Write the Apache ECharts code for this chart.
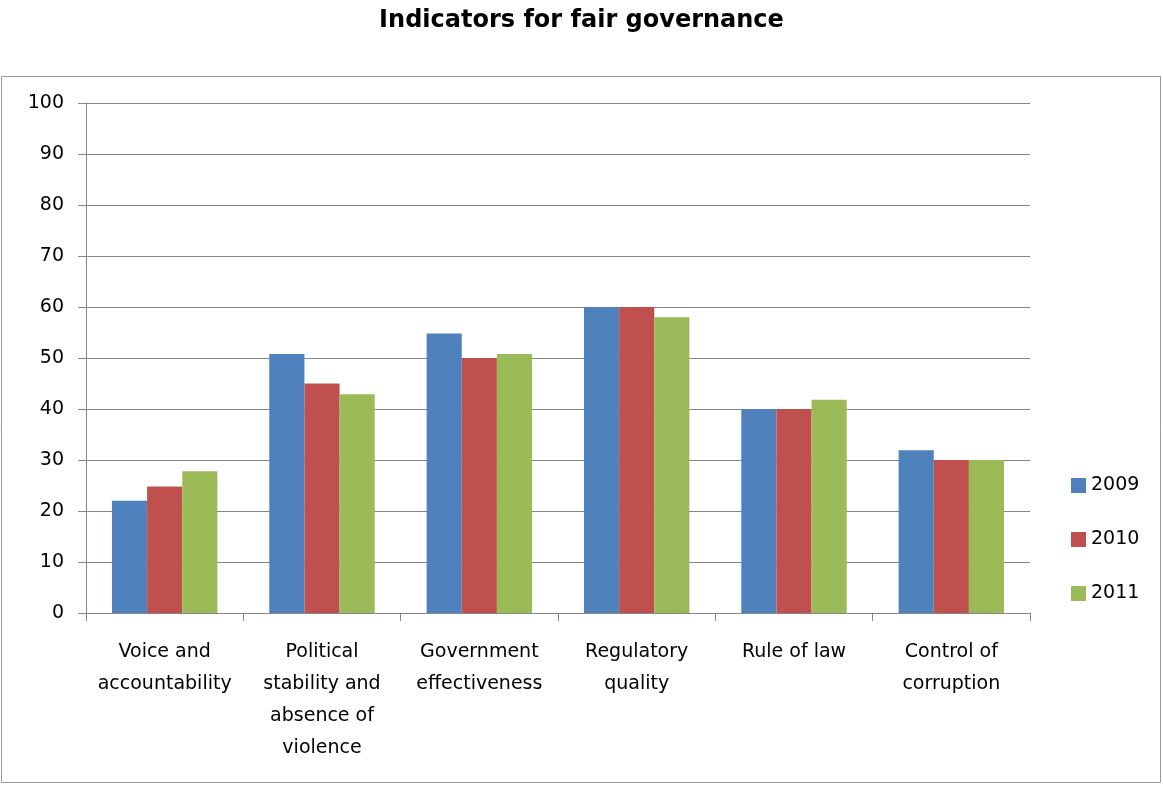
<!DOCTYPE html>
<html><head><meta charset="utf-8">
<script src="https://cdn.jsdelivr.net/npm/echarts@6/dist/echarts.min.js"></script>
<style>html,body{margin:0;padding:0;background:#fff}#c{width:1163px;height:786px}</style>
</head><body><div id="c"></div>
<script>
const categories = ['Voice and\naccountability','Political\nstability and\nabsence of\nviolence','Government\neffectiveness','Regulatory\nquality','Rule of law','Control of\ncorruption'];
const seriesNames = ['2009','2010','2011'];
const values2009 = [22, 50.8, 54.8, 60, 40, 31.9];
const values2010 = [24.8, 45, 50, 60, 40, 30];
const values2011 = [27.8, 42.9, 50.8, 58, 41.8, 30];
const colors = ['#4F81BD','#C0504D','#9BBB59'];
const font = '"DejaVu Sans", sans-serif';
const chart = echarts.init(document.getElementById('c'));
chart.setOption({
  animation:false,
  backgroundColor:'#fff',
  title:{text:'Indicators for fair governance',left:'center',top:4,textStyle:{fontFamily:font,fontSize:24,fontWeight:'bold',color:'#000'}},
  graphic:[{type:'rect',shape:{x:1.5,y:76.5,width:1159,height:706},style:{fill:'none',stroke:'#9a9a9a',lineWidth:1},silent:true}],
  legend:{orient:'vertical',left:1066,top:471,itemGap:35,itemWidth:15,itemHeight:15,icon:'rect',itemStyle:{borderWidth:0},
    textStyle:{fontFamily:font,fontSize:19,color:'#000'},data:seriesNames},
  grid:{left:86,right:133,top:103,bottom:173},
  xAxis:{type:'category',data:categories,
    axisLine:{lineStyle:{color:'#868686'}},
    axisTick:{show:true,length:8,lineStyle:{color:'#868686'}},
    axisLabel:{fontFamily:font,fontSize:19,color:'#000',lineHeight:32,margin:23,interval:0}},
  yAxis:{type:'value',min:0,max:100,interval:10,
    axisLine:{show:true,lineStyle:{color:'#868686'}},
    axisTick:{show:true,length:8,lineStyle:{color:'#868686'}},
    splitLine:{lineStyle:{color:'#868686'}},
    axisLabel:{fontFamily:font,fontSize:19,color:'#000',margin:22}},
  series:[
    {name:seriesNames[0],type:'bar',data:values2009,itemStyle:{color:colors[0]},barGap:'0%',barCategoryGap:'33%'},
    {name:seriesNames[1],type:'bar',data:values2010,itemStyle:{color:colors[1]},barGap:'0%',barCategoryGap:'33%'},
    {name:seriesNames[2],type:'bar',data:values2011,itemStyle:{color:colors[2]},barGap:'0%',barCategoryGap:'33%'}
  ]
});
</script></body></html>
